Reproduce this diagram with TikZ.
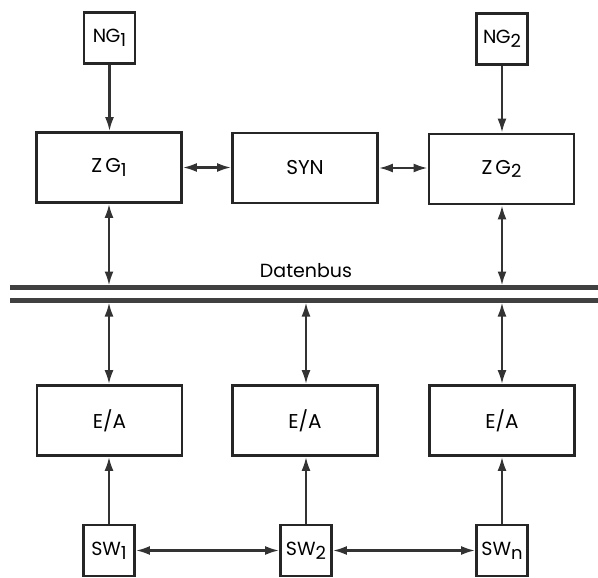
\documentclass[tikz,border=0pt]{standalone}
\usepackage{fontspec}
\setmainfont{Poppins}
\usetikzlibrary{arrows.meta}
\newcommand{\mysub}[1]{\raisebox{-0.35ex}{\fontsize{18}{18}\selectfont #1}}
\begin{document}
\begin{tikzpicture}[x=1pt,y=-1pt,
  >={Latex[length=14pt,width=9pt]},
  box/.style={draw=black!85,line width=2.8pt,inner sep=0pt,minimum width=145pt,minimum height=70pt,font=\fontsize{20}{20}\selectfont},
  sbox/.style={draw=black!85,line width=2.8pt,inner sep=0pt,minimum width=51pt,minimum height=51pt,font=\fontsize{19}{19}\selectfont},
  conn/.style={draw=black!80,line width=2.2pt,->},
  dconn/.style={draw=black!80,line width=2.2pt,<->},
  bus/.style={draw=black!75,line width=4.5pt}]
\useasboundingbox (0,0) rectangle (598,578);
% top row
\node[sbox] (ng1) at (109.5,38) {N\kern-0.5pt G\mysub{1}};
\node[sbox] (ng2) at (502,39) {N\kern-0.5pt G\mysub{2}};
\node[box] (zg1) at (109,167.5) {Z\kern3pt G\mysub{1}};
\node[box] (syn) at (305,168) {SYN};
\node[box] (zg2) at (501.5,169) {Z\kern3pt G\mysub{2}};
% bus
\coordinate (busL1) at (10,287.5);
\coordinate (busR1) at (598,287.5);
\coordinate (busL2) at (10,300.5);
\coordinate (busR2) at (598,300.5);
\draw[bus] (busL1) -- (busR1);
\draw[bus] (busL2) -- (busR2);
\node[font=\fontsize{19}{19}\selectfont,anchor=base] (dbus) at (306,277) {Datenbus};
\coordinate (t1) at (109,285.5);
\coordinate (t3) at (502,285.5);
\coordinate (b1) at (109,302.5);
\coordinate (b2) at (306,302.5);
\coordinate (b3) at (502,302.5);
% lower row
\node[box] (ea1) at (109.5,420.5) {E/A};
\node[box] (ea2) at (305,420.5) {E/A};
\node[box] (ea3) at (502,420.5) {E/A};
\node[sbox] (sw1) at (109,550.5) {SW\mysub{1}};
\node[sbox] (sw2) at (306,550.5) {SW\mysub{2}};
\node[sbox] (swn) at (502,550.5) {SW\mysub{n}};
% connectors
\draw[conn] (ng1) -- (ng1 |- zg1.north);
\draw[conn] (ng2) -- (ng2 |- zg2.north);
\draw[dconn] (zg1.east) -- (syn.west |- zg1.east);
\draw[dconn] (syn.east) -- (zg2.west |- syn.east);
\draw[dconn] (t1 |- zg1.south) -- (t1);
\draw[dconn] (t3 |- zg2.south) -- (t3);
\draw[dconn] (b1) -- (b1 |- ea1.north);
\draw[dconn] (b2) -- (b2 |- ea2.north);
\draw[dconn] (b3) -- (b3 |- ea3.north);
\draw[conn] (sw1) -- (sw1 |- ea1.south);
\draw[conn] (sw2) -- (sw2 |- ea2.south);
\draw[conn] (swn) -- (swn |- ea3.south);
\draw[dconn] (sw1.east) -- (sw2.west);
\draw[dconn] (sw2.east) -- (swn.west);
\end{tikzpicture}
\end{document}
